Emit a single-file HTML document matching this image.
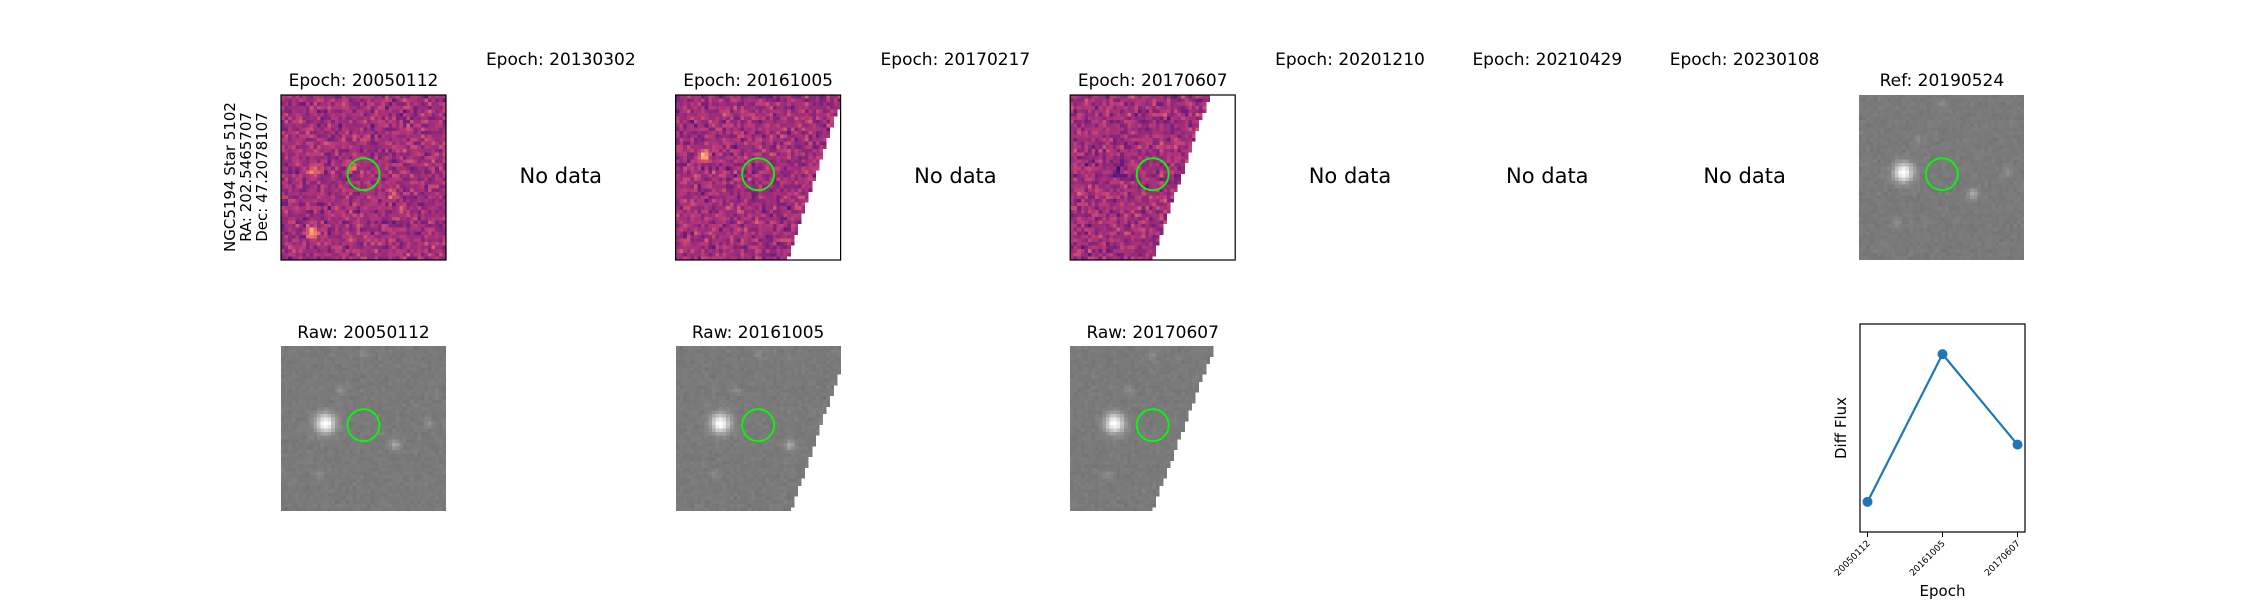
<!DOCTYPE html>
<html><head><meta charset="utf-8"><style>
html,body{margin:0;padding:0;background:#fff;}
#wrap{position:relative;width:2250px;height:600px;overflow:hidden;font-family:"DejaVu Sans","Liberation Sans",sans-serif;}
canvas{position:absolute;image-rendering:pixelated;}
svg{position:absolute;left:0;top:0;}
</style></head><body>
<div id="wrap"></div>
<script>
// ---- line chart data ----
const epochs = ["20050112","20161005","20170607"];
const diffFlux = [0.145, 0.855, 0.42];
const yDomain = [0, 1];

const topTitles = ["Epoch: 20050112","Epoch: 20130302","Epoch: 20161005","Epoch: 20170217","Epoch: 20170607","Epoch: 20201210","Epoch: 20210429","Epoch: 20230108","Ref: 20190524"];
const hasData = [1,0,1,0,1,0,0,0,1];
const rawTitles = {0:"Raw: 20050112",2:"Raw: 20161005",4:"Raw: 20170607"};

const W=2250,H=600, X0=281, STEP=197.3, PW=165, TY=95, BY=346;
const wrap=document.getElementById('wrap');
const NS="http://www.w3.org/2000/svg";
const svg=document.createElementNS(NS,'svg');
svg.setAttribute('width',W);svg.setAttribute('height',H);



let seed=12345;
function rnd(){seed=(seed*1103515245+12345)%2147483648;return seed/2147483648;}
function gauss(){return (rnd()+rnd()+rnd()+rnd()-2)*0.87;}
const magma=[[0,0,0,4],[0.25,81,18,124],[0.5,183,55,121],[0.75,252,137,97],[1,252,253,191]];
function mag(v){v=Math.max(0,Math.min(1,v));for(let i=1;i<magma.length;i++){if(v<=magma[i][0]){const a=magma[i-1],b=magma[i],t=(v-a[0])/(b[0]-a[0]);return [a[1]+(b[1]-a[1])*t,a[2]+(b[2]-a[2])*t,a[3]+(b[3]-a[3])*t];}}return magma[4].slice(1);}
const N=46;
function edge(mask,y){
  if(!mask)return 1;
  const f=mask[0]+(mask[1]-mask[0])*Math.max(0,(y-mask[2])/(1-mask[2]));
  return y<mask[2]?mask[3]:f;
}
function makeCanvas(x,y,kind,stars,mask,name){
  const c=document.createElement('canvas');c.width=N;c.height=N;
  c.style.left=x+'px';c.style.top=y+'px';c.style.width=PW+'px';c.style.height=PW+'px';
  
  
  const ctx=c.getContext('2d');const img=ctx.createImageData(N,N);
  for(let j=0;j<N;j++)for(let i=0;i<N;i++){
    const fx=(i+0.5)/N,fy=(j+0.5)/N;let col;
    let s=0;for(const st of stars){const d2=(fx-st[0])**2+(fy-st[1])**2;s+=st[2]*Math.exp(-d2/(2*st[3]*st[3]));}
    if(kind==='m'){col=mag(0.45+0.13*gauss()+s);}
    else{const g=Math.min(255,122+6*gauss()+s*255);col=[g,g,g];}
    const k=(j*N+i)*4;
    if(fx>edge(mask,fy)){img.data[k]=255;img.data[k+1]=255;img.data[k+2]=255;img.data[k+3]=kind==='m'?255:0;}
    else{img.data[k]=col[0];img.data[k+1]=col[1];img.data[k+2]=col[2];img.data[k+3]=255;}
  }
  ctx.putImageData(img,0,0);wrap.appendChild(c);
}
function text(x,y,s,size,anchor,name,rot){
  const t=document.createElementNS(NS,'text');t.setAttribute('x',x);t.setAttribute('y',y);
  t.setAttribute('font-size',size);t.setAttribute('text-anchor',anchor||'middle');
  t.setAttribute('font-family','"DejaVu Sans","Liberation Sans",sans-serif');
  if(rot)t.setAttribute('transform',`rotate(${rot} ${x} ${y})`);
  t.textContent=s;
  
  
  svg.appendChild(t);return t;
}
function circ(cx,cy,name){
  const c=document.createElementNS(NS,'circle');c.setAttribute('cx',cx);c.setAttribute('cy',cy);c.setAttribute('r',16);
  c.setAttribute('fill','none');c.setAttribute('stroke','#00ff00');c.setAttribute('stroke-width',1.8);
  
  
  svg.appendChild(c);
}
function rect(x,y,w,h,name){
  const r=document.createElementNS(NS,'rect');r.setAttribute('x',x);r.setAttribute('y',y);r.setAttribute('width',w);r.setAttribute('height',h);
  r.setAttribute('fill','none');r.setAttribute('stroke','#000');r.setAttribute('stroke-width',1.2);
  
  
  svg.appendChild(r);
}
const masks={0:null,2:[0.98,0.68,0.09,1],4:[0.85,0.5,0.0,0.85],8:null};
const rawMasks={0:null,2:[0.99,0.7,0.17,1],4:[0.88,0.5,0.0,0.88]};
const grayStars=[[0.27,0.47,0.55,0.04],[0.69,0.6,0.18,0.022],[0.36,0.27,0.08,0.018],[0.9,0.47,0.08,0.02],[0.23,0.78,0.07,0.02],[0.5,0.05,0.07,0.018]];
const magStars={0:[[0.44,0.44,0.2,0.02],[0.19,0.83,0.35,0.025],[0.2,0.46,0.25,0.025],[0.68,0.6,0.18,0.02]],
                2:[[0.17,0.37,0.45,0.022],[0.52,0.48,0.08,0.02]],
                4:[[0.74,0.3,0.2,0.015],[0.3,0.45,-0.12,0.03]]};
for(let c=0;c<9;c++){
  const x=X0+STEP*c, cx=x+PW/2;
  if(hasData[c]){
    text(cx,86,topTitles[c],17,'middle','title-top-'+c);
    if(c===8) makeCanvas(x,TY,'g',grayStars,null,'ref-image');
    else {makeCanvas(x,TY,'m',magStars[c],masks[c],'diff-image-'+c);rect(x,TY,PW,PW,'diff-frame-'+c);}
    circ(cx,TY+PW*0.48,'aperture-circle-'+c);
    if(rawTitles[c]){
      text(cx,338,rawTitles[c],17,'middle','raw-title-'+c);
      makeCanvas(x,BY,'g',grayStars,rawMasks[c],'raw-image-'+c);
      circ(cx,BY+PW*0.48,'raw-aperture-circle-'+c);
    }
  } else {
    text(cx,65,topTitles[c],17,'middle','title-top-'+c);
    text(cx,183,'No data',21,'middle','no-data-'+c);
  }
}
const lbl=["NGC5194 Star 5102","RA: 202.5465707","Dec: 47.2078107"];
lbl.forEach((s,i)=>text(235+i*16,177,s,15,'middle','star-label-'+i,-90));

// ---- line chart ----
const ax={x:1860,y:324,w:165,h:208};
function xs(i){const span=epochs.length-1,pad=span*0.05;return ax.x+(i+pad)/(span+2*pad)*ax.w;}
function ys(v){return ax.y+ax.h-(v-yDomain[0])/(yDomain[1]-yDomain[0])*ax.h;}
rect(ax.x,ax.y,ax.w,ax.h,'flux-axes-frame');
const pl=document.createElementNS(NS,'polyline');
pl.setAttribute('points',diffFlux.map((v,i)=>xs(i)+','+ys(v)).join(' '));
pl.setAttribute('fill','none');pl.setAttribute('stroke','#1f77b4');pl.setAttribute('stroke-width',2.2);


svg.appendChild(pl);
diffFlux.forEach((v,i)=>{
  const p=document.createElementNS(NS,'circle');p.setAttribute('cx',xs(i));p.setAttribute('cy',ys(v));p.setAttribute('r',5);p.setAttribute('fill','#1f77b4');
  
  
  svg.appendChild(p);
  const tk=document.createElementNS(NS,'line');tk.setAttribute('x1',xs(i));tk.setAttribute('x2',xs(i));tk.setAttribute('y1',ax.y+ax.h);tk.setAttribute('y2',ax.y+ax.h+5);tk.setAttribute('stroke','#000');
  
  
  svg.appendChild(tk);
  text(xs(i)+3,ax.y+ax.h+12,epochs[i],9,'end','x-tick-label-'+i,-45);
});
text(1846,ax.y+ax.h/2,'Diff Flux',15,'middle','y-axis-title',-90);
text(ax.x+ax.w/2,596,'Epoch',15,'middle','x-axis-title');
wrap.appendChild(svg);
</script>
</body></html>
